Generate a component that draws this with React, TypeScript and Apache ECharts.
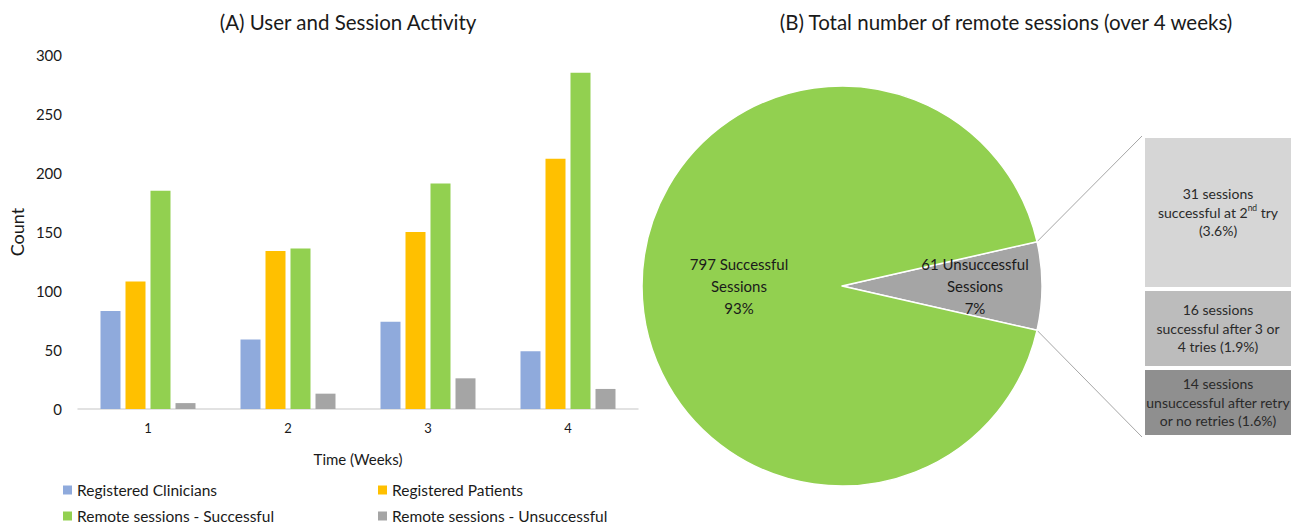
import React, { useEffect, useRef } from "react";
import * as echarts from "echarts";

const weeks = ["1", "2", "3", "4"];
const seriesNames = [
  "Registered Clinicians",
  "Registered Patients",
  "Remote sessions - Successful",
  "Remote sessions - Unsuccessful",
];
const clinicians = [83, 59, 74, 49];
const patients = [108, 134, 150, 212];
const successful = [185, 136, 191, 285];
const unsuccessful = [5, 13, 26, 17];
const barColors = ["#8faadc", "#ffc000", "#92d050", "#a5a5a5"];

const pieNames = ["Unsuccessful", "Successful"];
const pieValues = [61, 797];
const pieColors = ["#a5a5a5", "#92d050"];

const breakdownValues = [31, 16, 14];
const breakdownLabels = [
  "31 sessions\nsuccessful at 2{sup|nd} try\n(3.6%)",
  "16 sessions\nsuccessful after 3 or\n4 tries (1.9%)",
  "14 sessions\nunsuccessful after retry\nor no retries (1.6%)",
];
const breakdownColors = ["#d6d6d6", "#bcbcbc", "#8f8f8f"];

const FONT = "Lato, 'Open Sans', sans-serif";
const INK = "#1a1a1a";

export default function App() {
  const ref = useRef<HTMLDivElement>(null);
  useEffect(() => {
    if (!ref.current) return;
    const chart = echarts.init(ref.current, undefined, { renderer: "svg" });

    const cx = 842;
    const cy = 286;
    const r = 200;
    const total = pieValues.reduce((a, b) => a + b, 0);
    const halfDeg = (pieValues[0] / total) * 180;
    const halfRad = (halfDeg * Math.PI) / 180;
    const boxLeft = 1143;
    const boxTop = 136;
    const boxW = 150;
    const boxH = 301;

    const barSeries = [clinicians, patients, successful, unsuccessful].map((d, i) => ({
      type: "bar",
      name: seriesNames[i],
      data: d,
      xAxisIndex: 0,
      yAxisIndex: 0,
      barWidth: 20,
      barGap: "25%",
      itemStyle: { color: barColors[i] },
    }));

    const stackSeries = breakdownValues.map((v, i) => ({
      type: "bar",
      name: "b" + i,
      stack: "box",
      xAxisIndex: 1,
      yAxisIndex: 1,
      barWidth: "100%",
      data: [v],
      itemStyle: { color: breakdownColors[i], borderColor: "#ffffff", borderWidth: 2 },
      label: {
        show: true,
        position: "inside",
        formatter: breakdownLabels[i],
        color: "#2a2a2a",
        fontFamily: FONT,
        fontSize: 14,
        lineHeight: 18.5,
        align: "center",
        rich: {
          sup: { fontSize: 8.5, fontFamily: FONT, color: "#2a2a2a", padding: [0, 0, 8, 0] },
        },
      },
    }));

    const legendPos = [
      [63, 482],
      [378, 482],
      [63, 508],
      [378, 508],
    ];

    chart.setOption({
      animation: false,
      backgroundColor: "#ffffff",
      textStyle: { fontFamily: FONT },
      legend: seriesNames.map((n, i) => ({
        data: [n],
        left: legendPos[i][0],
        top: legendPos[i][1],
        padding: 0,
        icon: "rect",
        itemWidth: 9,
        itemHeight: 9,
        itemGap: 6,
        selectedMode: false,
        textStyle: { fontFamily: FONT, fontSize: 15.5, color: INK },
      })),
      grid: [
        { left: 78, top: 55, width: 560, height: 354 },
        { left: boxLeft, top: boxTop, width: boxW, height: boxH },
      ],
      xAxis: [
        {
          type: "category",
          gridIndex: 0,
          data: weeks,
          axisLine: { lineStyle: { color: "#d9d9d9", width: 1.5 } },
          axisTick: { show: false },
          axisLabel: { color: INK, fontSize: 13, fontFamily: FONT, margin: 12 },
          name: "Time (Weeks)",
          nameLocation: "middle",
          nameGap: 42,
          nameTextStyle: { color: INK, fontSize: 15, fontFamily: FONT },
        },
        {
          type: "category",
          gridIndex: 1,
          data: [""],
          show: false,
        },
      ],
      yAxis: [
        {
          type: "value",
          gridIndex: 0,
          min: 0,
          max: 300,
          interval: 50,
          axisLine: { show: false },
          axisTick: { show: false },
          splitLine: { show: false },
          axisLabel: { color: INK, fontSize: 15, fontFamily: FONT, margin: 16 },
          name: "Count",
          nameLocation: "middle",
          nameGap: 52,
          nameRotate: 90,
          nameTextStyle: { color: INK, fontSize: 18, fontFamily: FONT },
        },
        {
          type: "value",
          gridIndex: 1,
          min: 0,
          max: breakdownValues.reduce((a, b) => a + b, 0),
          inverse: true,
          show: false,
          splitLine: { show: false },
        },
      ],
      series: [
        ...barSeries,
        ...stackSeries,
        {
          type: "pie",
          name: "sessions",
          center: [cx, cy],
          radius: [0, r],
          startAngle: halfDeg,
          clockwise: true,
          avoidLabelOverlap: false,
          itemStyle: { borderColor: "#ffffff", borderWidth: 1.5 },
          label: {
            show: true,
            position: "inside",
            color: INK,
            fontFamily: FONT,
            fontSize: 15,
            lineHeight: 22,
            align: "center",
            formatter: (p: any) =>
              `${p.value} ${p.name}\nSessions\n${Math.round(p.percent)}%`,
          },
          labelLayout: (p: any) => (p.dataIndex === 0 ? { dx: 30 } : {}),
          labelLine: { show: false },
          emphasis: { disabled: true },
          data: pieValues.map((v, i) => ({
            value: v,
            name: pieNames[i],
            itemStyle: { color: pieColors[i] },
          })),
        },
      ],
      graphic: [
        {
          type: "text",
          x: 348,
          y: 22,
          style: {
            text: "(A) User and Session Activity",
            fontSize: 20.5,
            fontFamily: FONT,
            fill: INK,
            align: "center",
            verticalAlign: "middle",
          },
        },
        {
          type: "text",
          x: 1006,
          y: 22,
          style: {
            text: "(B) Total number of remote sessions (over 4 weeks)",
            fontSize: 20.5,
            fontFamily: FONT,
            fill: INK,
            align: "center",
            verticalAlign: "middle",
          },
        },
        {
          type: "line",
          shape: {
            x1: cx + r * Math.cos(halfRad),
            y1: cy - r * Math.sin(halfRad),
            x2: boxLeft - 1,
            y2: boxTop,
          },
          style: { stroke: "#a6a6a6", lineWidth: 1 },
        },
        {
          type: "line",
          shape: {
            x1: cx + r * Math.cos(halfRad),
            y1: cy + r * Math.sin(halfRad),
            x2: boxLeft - 1,
            y2: boxTop + boxH,
          },
          style: { stroke: "#a6a6a6", lineWidth: 1 },
        },
      ],
    });
    return () => chart.dispose();
  }, []);
  return (
    <div
      ref={ref}
      style={{ position: "fixed", left: 0, top: 0, width: 1298, height: 524 }}
    />
  );
}
